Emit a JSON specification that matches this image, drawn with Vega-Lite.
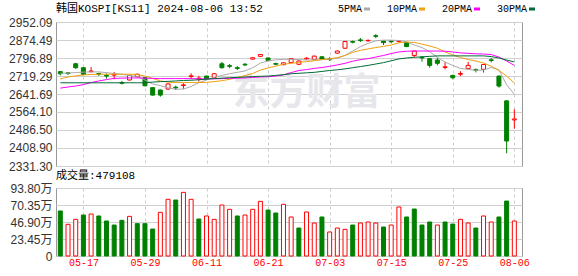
{
  "$schema": "https://vega.github.io/schema/vega-lite/v6.json",
  "background": "white",
  "padding": {"left": 8, "top": 2, "right": 2, "bottom": 2},
  "spacing": 22,
  "bounds": "flush",
  "datasets": {
    "k": [
      {"d":"05-13","o":2738,"h":2741,"l":2722,"c":2729,"s":"g","v":62.1,"vs":"g","m5":2731,"m10":2707,"m20":2667,"m30":2690},
      {"d":"05-14","o":2733,"h":2736,"l":2724,"c":2730,"s":"g","v":43.7,"vs":"r","m5":2732,"m10":2715,"m20":2672,"m30":2690},
      {"d":"05-16","o":2772,"h":2776,"l":2750,"c":2755,"s":"g","v":50.6,"vs":"r","m5":2734,"m10":2720,"m20":2676,"m30":2690},
      {"d":"05-17","o":2755,"h":2757,"l":2722,"c":2726,"s":"g","v":56.5,"vs":"g","m5":2736,"m10":2724,"m20":2682,"m30":2690},
      {"d":"05-20","o":2738,"h":2758,"l":2735,"c":2741,"s":"r","v":57.9,"vs":"r","m5":2737,"m10":2726,"m20":2691,"m30":2690},
      {"d":"05-21","o":2730,"h":2733,"l":2720,"c":2726,"s":"g","v":55.2,"vs":"g","m5":2737,"m10":2727,"m20":2698,"m30":2690},
      {"d":"05-22","o":2722,"h":2730,"l":2708,"c":2719,"s":"g","v":48.3,"vs":"g","m5":2734,"m10":2727,"m20":2704,"m30":2690},
      {"d":"05-23","o":2723,"h":2737,"l":2705,"c":2726,"s":"r","v":42.7,"vs":"g","m5":2730,"m10":2727,"m20":2709,"m30":2690},
      {"d":"05-24","o":2691,"h":2698,"l":2683,"c":2688,"s":"g","v":49.2,"vs":"g","m5":2727,"m10":2727,"m20":2710,"m30":2690},
      {"d":"05-27","o":2702,"h":2724,"l":2700,"c":2722,"s":"r","v":54.7,"vs":"r","m5":2721,"m10":2727,"m20":2711,"m30":2690},
      {"d":"05-28","o":2716,"h":2729,"l":2714,"c":2727,"s":"r","v":44.6,"vs":"g","m5":2718,"m10":2726,"m20":2711,"m30":2690},
      {"d":"05-29","o":2712,"h":2714,"l":2675,"c":2677,"s":"g","v":44.6,"vs":"g","m5":2702,"m10":2719,"m20":2710,"m30":2690},
      {"d":"05-30","o":2669,"h":2670,"l":2635,"c":2637,"s":"g","v":37.2,"vs":"g","m5":2685,"m10":2709,"m20":2709,"m30":2693},
      {"d":"05-31","o":2659,"h":2660,"l":2630,"c":2637,"s":"g","v":60.2,"vs":"r","m5":2678,"m10":2698,"m20":2708,"m30":2695},
      {"d":"06-03","o":2663,"h":2687,"l":2660,"c":2685,"s":"r","v":78.2,"vs":"r","m5":2668,"m10":2693,"m20":2708,"m30":2696},
      {"d":"06-04","o":2671,"h":2678,"l":2659,"c":2668,"s":"g","v":77.2,"vs":"g","m5":2662,"m10":2691,"m20":2708,"m30":2698},
      {"d":"06-05","o":2678,"h":2688,"l":2664,"c":2681,"s":"r","v":87.8,"vs":"r","m5":2663,"m10":2691,"m20":2708,"m30":2700},
      {"d":"06-07","o":2717,"h":2731,"l":2706,"c":2720,"s":"r","v":78.2,"vs":"r","m5":2674,"m10":2691,"m20":2708,"m30":2701},
      {"d":"06-10","o":2707,"h":2720,"l":2695,"c":2710,"s":"r","v":51.0,"vs":"g","m5":2691,"m10":2691,"m20":2707,"m30":2703},
      {"d":"06-11","o":2719,"h":2721,"l":2703,"c":2705,"s":"g","v":55.2,"vs":"r","m5":2702,"m10":2692,"m20":2707,"m30":2706},
      {"d":"06-12","o":2713,"h":2731,"l":2711,"c":2729,"s":"r","v":50.6,"vs":"r","m5":2714,"m10":2695,"m20":2707,"m30":2708},
      {"d":"06-13","o":2772,"h":2780,"l":2751,"c":2755,"s":"g","v":70.3,"vs":"r","m5":2722,"m10":2699,"m20":2708,"m30":2710},
      {"d":"06-14","o":2764,"h":2771,"l":2753,"c":2761,"s":"g","v":64.4,"vs":"r","m5":2729,"m10":2705,"m20":2709,"m30":2712},
      {"d":"06-17","o":2755,"h":2762,"l":2745,"c":2752,"s":"g","v":55.2,"vs":"g","m5":2735,"m10":2713,"m20":2710,"m30":2713},
      {"d":"06-18","o":2770,"h":2775,"l":2762,"c":2767,"s":"g","v":56.5,"vs":"r","m5":2741,"m10":2721,"m20":2711,"m30":2715},
      {"d":"06-19","o":2792,"h":2800,"l":2790,"c":2798,"s":"r","v":64.4,"vs":"r","m5":2755,"m10":2730,"m20":2713,"m30":2717},
      {"d":"06-20","o":2804,"h":2814,"l":2802,"c":2812,"s":"r","v":75.4,"vs":"r","m5":2775,"m10":2745,"m20":2715,"m30":2718},
      {"d":"06-21","o":2797,"h":2799,"l":2783,"c":2786,"s":"g","v":63.4,"vs":"g","m5":2784,"m10":2754,"m20":2716,"m30":2719},
      {"d":"06-24","o":2773,"h":2777,"l":2766,"c":2770,"s":"g","v":59.3,"vs":"g","m5":2789,"m10":2762,"m20":2719,"m30":2722},
      {"d":"06-25","o":2768,"h":2778,"l":2766,"c":2776,"s":"r","v":71.3,"vs":"r","m5":2791,"m10":2770,"m20":2724,"m30":2725},
      {"d":"06-26","o":2777,"h":2796,"l":2775,"c":2794,"s":"r","v":53.8,"vs":"r","m5":2791,"m10":2774,"m20":2734,"m30":2729},
      {"d":"06-27","o":2770,"h":2786,"l":2766,"c":2784,"s":"r","v":38.6,"vs":"g","m5":2790,"m10":2778,"m20":2743,"m30":2731},
      {"d":"06-28","o":2793,"h":2800,"l":2790,"c":2796,"s":"r","v":60.7,"vs":"r","m5":2788,"m10":2781,"m20":2747,"m30":2733},
      {"d":"07-01","o":2791,"h":2807,"l":2789,"c":2805,"s":"r","v":45.5,"vs":"r","m5":2789,"m10":2785,"m20":2752,"m30":2735},
      {"d":"07-02","o":2802,"h":2804,"l":2789,"c":2791,"s":"g","v":53.8,"vs":"g","m5":2790,"m10":2790,"m20":2756,"m30":2739},
      {"d":"07-03","o":2793,"h":2800,"l":2784,"c":2790,"s":"g","v":33.1,"vs":"r","m5":2791,"m10":2794,"m20":2761,"m30":2743},
      {"d":"07-04","o":2818,"h":2829,"l":2816,"c":2827,"s":"r","v":38.6,"vs":"r","m5":2797,"m10":2798,"m20":2767,"m30":2746},
      {"d":"07-05","o":2839,"h":2871,"l":2836,"c":2868,"s":"r","v":36.8,"vs":"r","m5":2808,"m10":2808,"m20":2774,"m30":2750},
      {"d":"07-08","o":2868,"h":2872,"l":2860,"c":2865,"s":"g","v":42.7,"vs":"g","m5":2827,"m10":2821,"m20":2783,"m30":2755},
      {"d":"07-09","o":2875,"h":2883,"l":2866,"c":2872,"s":"g","v":45.5,"vs":"r","m5":2846,"m10":2830,"m20":2790,"m30":2760},
      {"d":"07-10","o":2871,"h":2876,"l":2868,"c":2873,"s":"r","v":46.9,"vs":"r","m5":2860,"m10":2836,"m20":2794,"m30":2765},
      {"d":"07-11","o":2893,"h":2900,"l":2882,"c":2890,"s":"g","v":45.5,"vs":"r","m5":2871,"m10":2842,"m20":2801,"m30":2771},
      {"d":"07-12","o":2870,"h":2871,"l":2853,"c":2863,"s":"g","v":40.0,"vs":"g","m5":2874,"m10":2847,"m20":2808,"m30":2777},
      {"d":"07-15","o":2870,"h":2872,"l":2861,"c":2867,"s":"g","v":42.7,"vs":"r","m5":2874,"m10":2853,"m20":2816,"m30":2785},
      {"d":"07-16","o":2868,"h":2872,"l":2864,"c":2870,"s":"r","v":67.6,"vs":"r","m5":2872,"m10":2862,"m20":2823,"m30":2793},
      {"d":"07-17","o":2863,"h":2866,"l":2844,"c":2846,"s":"g","v":53.8,"vs":"g","m5":2867,"m10":2866,"m20":2826,"m30":2797},
      {"d":"07-18","o":2808,"h":2828,"l":2800,"c":2827,"s":"r","v":64.8,"vs":"g","m5":2853,"m10":2864,"m20":2827,"m30":2800},
      {"d":"07-19","o":2800,"h":2805,"l":2781,"c":2797,"s":"g","v":42.7,"vs":"g","m5":2842,"m10":2857,"m20":2827,"m30":2802},
      {"d":"07-22","o":2794,"h":2796,"l":2755,"c":2765,"s":"g","v":46.9,"vs":"g","m5":2824,"m10":2849,"m20":2827,"m30":2804},
      {"d":"07-23","o":2788,"h":2799,"l":2765,"c":2774,"s":"g","v":42.7,"vs":"r","m5":2800,"m10":2839,"m20":2827,"m30":2806},
      {"d":"07-24","o":2756,"h":2780,"l":2748,"c":2759,"s":"r","v":46.9,"vs":"g","m5":2779,"m10":2823,"m20":2826,"m30":2806},
      {"d":"07-25","o":2722,"h":2724,"l":2705,"c":2712,"s":"g","v":44.1,"vs":"g","m5":2765,"m10":2810,"m20":2823,"m30":2806},
      {"d":"07-26","o":2727,"h":2740,"l":2719,"c":2730,"s":"r","v":50.6,"vs":"r","m5":2752,"m10":2799,"m20":2819,"m30":2806},
      {"d":"07-29","o":2751,"h":2780,"l":2749,"c":2765,"s":"r","v":45.5,"vs":"r","m5":2748,"m10":2790,"m20":2817,"m30":2806},
      {"d":"07-30","o":2747,"h":2752,"l":2735,"c":2744,"s":"g","v":38.6,"vs":"g","m5":2744,"m10":2784,"m20":2815,"m30":2806},
      {"d":"07-31","o":2748,"h":2771,"l":2734,"c":2769,"s":"r","v":55.2,"vs":"r","m5":2745,"m10":2775,"m20":2814,"m30":2806},
      {"d":"08-01","o":2789,"h":2797,"l":2778,"c":2786,"s":"g","v":46.9,"vs":"r","m5":2756,"m10":2762,"m20":2812,"m30":2803},
      {"d":"08-02","o":2719,"h":2721,"l":2669,"c":2676,"s":"g","v":53.8,"vs":"g","m5":2746,"m10":2743,"m20":2801,"m30":2797},
      {"d":"08-05","o":2612,"h":2614,"l":2386,"c":2439,"s":"g","v":75.8,"vs":"g","m5":2681,"m10":2719,"m20":2784,"m30":2788},
      {"d":"08-06","o":2530,"h":2576,"l":2492,"c":2534,"s":"r","v":48.3,"vs":"r","m5":2641,"m10":2689,"m20":2765,"m30":2780}
    ]
  },
  "config": {
    "view": {"stroke": "#999999", "strokeWidth": 1},
    "axis": {"labelFont": "Liberation Sans, Noto Sans CJK SC", "labelFontSize": 12, "labelColor": "#333333", "domain": false, "ticks": false, "gridColor": "#d0d0d0", "title": null, "labelOverlap": false, "labelPadding": 4},
    "title": {"font": "Liberation Mono, Noto Sans CJK SC", "fontSize": 11, "fontWeight": "normal", "color": "#000000", "anchor": "start", "frame": "group", "offset": 2}
  },
  "vconcat": [
    {
      "width": 466,
      "height": 144,
      "title": "韩国KOSPI[KS11] 2024-08-06 13:52",
      "data": {"name": "k"},
      "encoding": {
        "x": {"field": "d", "type": "ordinal", "scale": {"type": "point", "padding": 0.78, "align": 0.36},
          "axis": {"values": ["05-17","05-29","06-11","06-21","07-03","07-15","07-25","08-06"], "labels": false, "grid": true, "gridDash": [3,3], "gridColor": "#cccccc"}}
      },
      "layer": [
        {
          "data": {"values": [{"d": "06-28", "p": 2642, "t": "东方财富"}]},
          "mark": {"type": "text", "fontSize": 37, "fontWeight": "bold", "font": "Noto Sans CJK SC", "color": "#e7e7eb"},
          "encoding": {
            "y": {"field": "p", "type": "quantitative", "scale": {"domain": [2331.3, 2952.09], "nice": false, "zero": false},
              "axis": {"values": [2331.30, 2408.90, 2486.50, 2564.10, 2641.69, 2719.29, 2796.89, 2874.49, 2952.09], "format": ".2f", "grid": true, "labelOverlap": false, "labelBound": false, "tickCount": 9}},
            "text": {"field": "t"}
          }
        },
        {
          "mark": {"type": "rule", "strokeWidth": 1},
          "encoding": {
            "y": {"field": "l", "type": "quantitative", "scale": {"domain": [2331.3, 2952.09], "nice": false, "zero": false},
              "axis": {"values": [2331.30, 2408.90, 2486.50, 2564.10, 2641.69, 2719.29, 2796.89, 2874.49, 2952.09], "format": ".2f", "grid": true, "labelOverlap": false, "labelBound": false, "tickCount": 9}},
            "y2": {"field": "h"},
            "stroke": {"field": "s", "type": "nominal", "scale": {"domain": ["r","g"], "range": ["#ff0000","#008000"]}, "legend": null}
          }
        },
        {
          "mark": {"type": "bar", "size": 4, "strokeWidth": 1},
          "encoding": {
            "y": {"field": "o", "type": "quantitative", "scale": {"domain": [2331.3, 2952.09], "nice": false, "zero": false},
              "axis": {"values": [2331.30, 2408.90, 2486.50, 2564.10, 2641.69, 2719.29, 2796.89, 2874.49, 2952.09], "format": ".2f", "grid": true, "labelOverlap": false, "labelBound": false, "tickCount": 9}},
            "y2": {"field": "c"},
            "stroke": {"field": "s", "type": "nominal", "scale": {"domain": ["r","g"], "range": ["#ff0000","#008000"]}, "legend": null},
            "fill": {"field": "s", "type": "nominal", "scale": {"domain": ["r","g"], "range": ["#ffffff","#008000"]}, "legend": null}
          }
        },
        {
          "mark": {"type": "line", "strokeWidth": 1},
          "encoding": {
            "y": {"field": "m5", "type": "quantitative", "scale": {"domain": [2331.3, 2952.09], "nice": false, "zero": false},
              "axis": {"values": [2331.30, 2408.90, 2486.50, 2564.10, 2641.69, 2719.29, 2796.89, 2874.49, 2952.09], "format": ".2f", "grid": true, "labelOverlap": false, "labelBound": false, "tickCount": 9}},
            "color": {"datum": "5PMA", "type": "nominal",
              "scale": {"domain": ["5PMA","10PMA","20PMA","30PMA"], "range": ["#aaaaaa","#f0a010","#ff00ff","#006c36"]},
              "legend": {"orient": "none", "legendX": 306, "legendY": -18, "direction": "horizontal", "title": null,
                "symbolType": "stroke", "symbolSize": 36, "symbolStrokeWidth": 3, "labelAlign": "right", "labelOffset": -10,
                "labelFont": "Liberation Mono", "labelFontSize": 10, "labelColor": "#000000", "columnPadding": 10, "padding": 0}}
          }
        },
        {
          "mark": {"type": "line", "strokeWidth": 1},
          "encoding": {
            "y": {"field": "m10", "type": "quantitative", "scale": {"domain": [2331.3, 2952.09], "nice": false, "zero": false},
              "axis": {"values": [2331.30, 2408.90, 2486.50, 2564.10, 2641.69, 2719.29, 2796.89, 2874.49, 2952.09], "format": ".2f", "grid": true, "labelOverlap": false, "labelBound": false, "tickCount": 9}},
            "color": {"datum": "10PMA", "type": "nominal"}
          }
        },
        {
          "mark": {"type": "line", "strokeWidth": 1},
          "encoding": {
            "y": {"field": "m20", "type": "quantitative", "scale": {"domain": [2331.3, 2952.09], "nice": false, "zero": false},
              "axis": {"values": [2331.30, 2408.90, 2486.50, 2564.10, 2641.69, 2719.29, 2796.89, 2874.49, 2952.09], "format": ".2f", "grid": true, "labelOverlap": false, "labelBound": false, "tickCount": 9}},
            "color": {"datum": "20PMA", "type": "nominal"}
          }
        },
        {
          "mark": {"type": "line", "strokeWidth": 1},
          "encoding": {
            "y": {"field": "m30", "type": "quantitative", "scale": {"domain": [2331.3, 2952.09], "nice": false, "zero": false},
              "axis": {"values": [2331.30, 2408.90, 2486.50, 2564.10, 2641.69, 2719.29, 2796.89, 2874.49, 2952.09], "format": ".2f", "grid": true, "labelOverlap": false, "labelBound": false, "tickCount": 9}},
            "color": {"datum": "30PMA", "type": "nominal"}
          }
        }
      ]
    },
    {
      "width": 466,
      "height": 68,
      "title": {"text": "成交量:479108", "offset": 1},
      "data": {"name": "k"},
      "mark": {"type": "bar", "size": 4, "strokeWidth": 1},
      "encoding": {
        "x": {"field": "d", "type": "ordinal", "scale": {"type": "point", "padding": 0.78, "align": 0.36},
          "axis": {"values": ["05-17","05-29","06-11","06-21","07-03","07-15","07-25","08-06"], "grid": true, "gridDash": [3,3], "gridColor": "#cccccc",
            "labelColor": "#ff0000", "labelFont": "Liberation Mono", "labelFontSize": 10, "labelAngle": 0, "labelPadding": 1}},
        "y": {"field": "v", "type": "quantitative", "scale": {"domain": [0, 93.8], "nice": false},
          "axis": {"values": [0, 23.45, 46.9, 70.35, 93.8], "grid": true, "labelOverlap": false, "labelExpr": "datum.value == 0 ? '0' : format(datum.value, '.2f') + '万'"}},
        "stroke": {"field": "vs", "type": "nominal", "scale": {"domain": ["r","g"], "range": ["#ff0000","#008000"]}, "legend": null},
        "fill": {"field": "vs", "type": "nominal", "scale": {"domain": ["r","g"], "range": ["#ffffff","#008000"]}, "legend": null}
      }
    }
  ]
}
